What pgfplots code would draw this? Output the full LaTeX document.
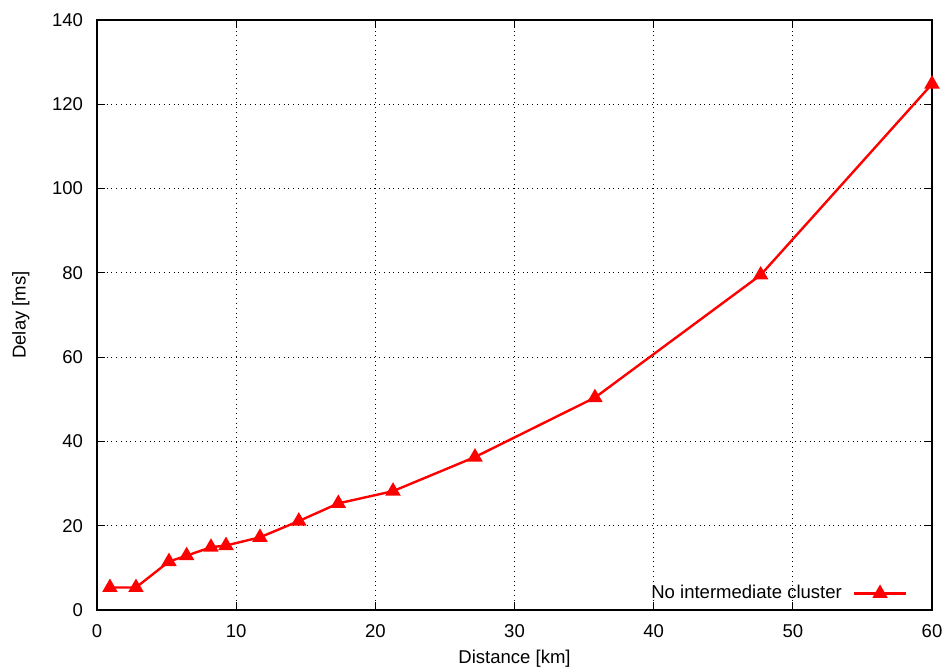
\documentclass[border=0pt]{standalone}
\usepackage{fontspec}
\setmainfont{Liberation Sans}
\usepackage{pgfplots}
\pgfplotsset{compat=1.18}
\begin{document}
\begin{tikzpicture}
\useasboundingbox (-48.5bp,-29.5bp) rectangle (424.5bp,305bp);
\begin{axis}[
  at={(0,0)}, anchor=south west,
  scale only axis,
  width=417.5bp, height=295bp,
  xmin=0, xmax=60, ymin=0, ymax=140,
  xtick={0,10,...,60}, ytick={0,20,...,140},
  grid=major,
  grid style={black, dotted, line width=0.45pt},
  axis line style={black, line width=0.8pt},
  tick style={black, line width=0.6pt},
  tick align=inside,
  major tick length=4bp,
  /pgf/number format/assume math mode=true,
  tick label style={font=\fontsize{9.3}{11}\selectfont},
  yticklabel style={xshift=-3.5bp},
  xticklabel style={yshift=-4bp},
  label style={font=\fontsize{9.3}{11}\selectfont},
  xlabel={Distance [km]},
  ylabel={Delay [ms]},
  xlabel style={yshift=1bp},
  ylabel style={yshift=4.5bp},
  legend plot pos=right,
  legend cell align=right,
  legend style={draw=none, fill=none, font=\fontsize{9.3}{11}\selectfont, at={(0.978,0.0)}, anchor=south east},
  legend image code/.code={\path (0bp,0bp); \draw[mark repeat=2,mark phase=2,#1] plot coordinates {(3.5bp,0cm) (16.5bp,0cm) (29.5bp,0cm)};},
]
\addplot[red, line width=1.2pt, mark=triangle*, mark size=3.3pt, mark options={solid}] coordinates {
(0.93,5.34) (2.8,5.34) (5.17,11.5) (6.44,12.9) (8.19,14.9) (9.27,15.3)
(11.71,17.25) (14.5,21.1) (17.34,25.3) (21.27,28.2) (27.16,36.3)
(35.78,50.4) (47.69,79.5) (60,124.8)
};
\addlegendentry{No intermediate cluster}
\end{axis}
\end{tikzpicture}
\end{document}
